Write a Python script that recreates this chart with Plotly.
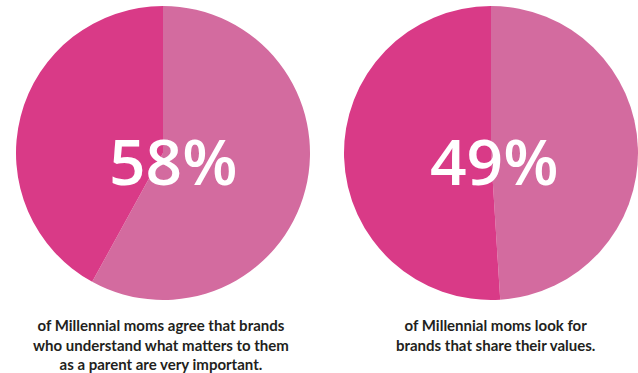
import plotly.graph_objects as go

labels = ["Agree", "Other"]
left_values = [58, 42]
right_values = [49, 51]
left_pct = "58%"
right_pct = "49%"
left_caption = "of Millennial moms agree that brands<br>who understand what matters to them<br>as a parent are very important."
right_caption = "of Millennial moms look for<br>brands that share their values."

light = "#D36B9F"
dark = "#D93A87"

W, H = 638, 373
r = 147
lc = (163, 153)
rc = (491, 153)

def dom(c):
    x0 = max(0, (c[0] - r) / W)
    x1 = min(1, (c[0] + r) / W)
    y0 = 1 - (c[1] + r) / H
    y1 = 1 - (c[1] - r) / H
    return dict(x=[x0, x1], y=[y0, y1])

fig = go.Figure()
for vals, c in [(left_values, lc), (right_values, rc)]:
    fig.add_trace(go.Pie(
        labels=labels, values=vals, sort=False, direction="clockwise", rotation=0,
        marker=dict(colors=[light, dark], line=dict(width=0)),
        textinfo="none", hoverinfo="skip", showlegend=False, domain=dom(c)))

for txt, c in [(left_pct, (173, 160)), (right_pct, (494, 160))]:
    fig.add_annotation(x=c[0] / W, y=1 - c[1] / H, xref="paper", yref="paper",
                       xanchor="center", yanchor="middle",
                       text=txt, showarrow=False,
                       font=dict(family="Open Sans", size=64, color="white", weight=600))

for txt, cx in [(left_caption, 161), (right_caption, 495)]:
    fig.add_annotation(x=cx / W, y=1 - 314 / H, xref="paper", yref="paper",
                       xanchor="center", yanchor="top", align="center",
                       text=txt, showarrow=False,
                       font=dict(family="Lato", size=15, color="#231F20", weight=700))

fig.update_layout(width=W, height=H, margin=dict(l=0, r=0, t=0, b=0),
                  paper_bgcolor="white", plot_bgcolor="white")
fig.write_html("out.html")
